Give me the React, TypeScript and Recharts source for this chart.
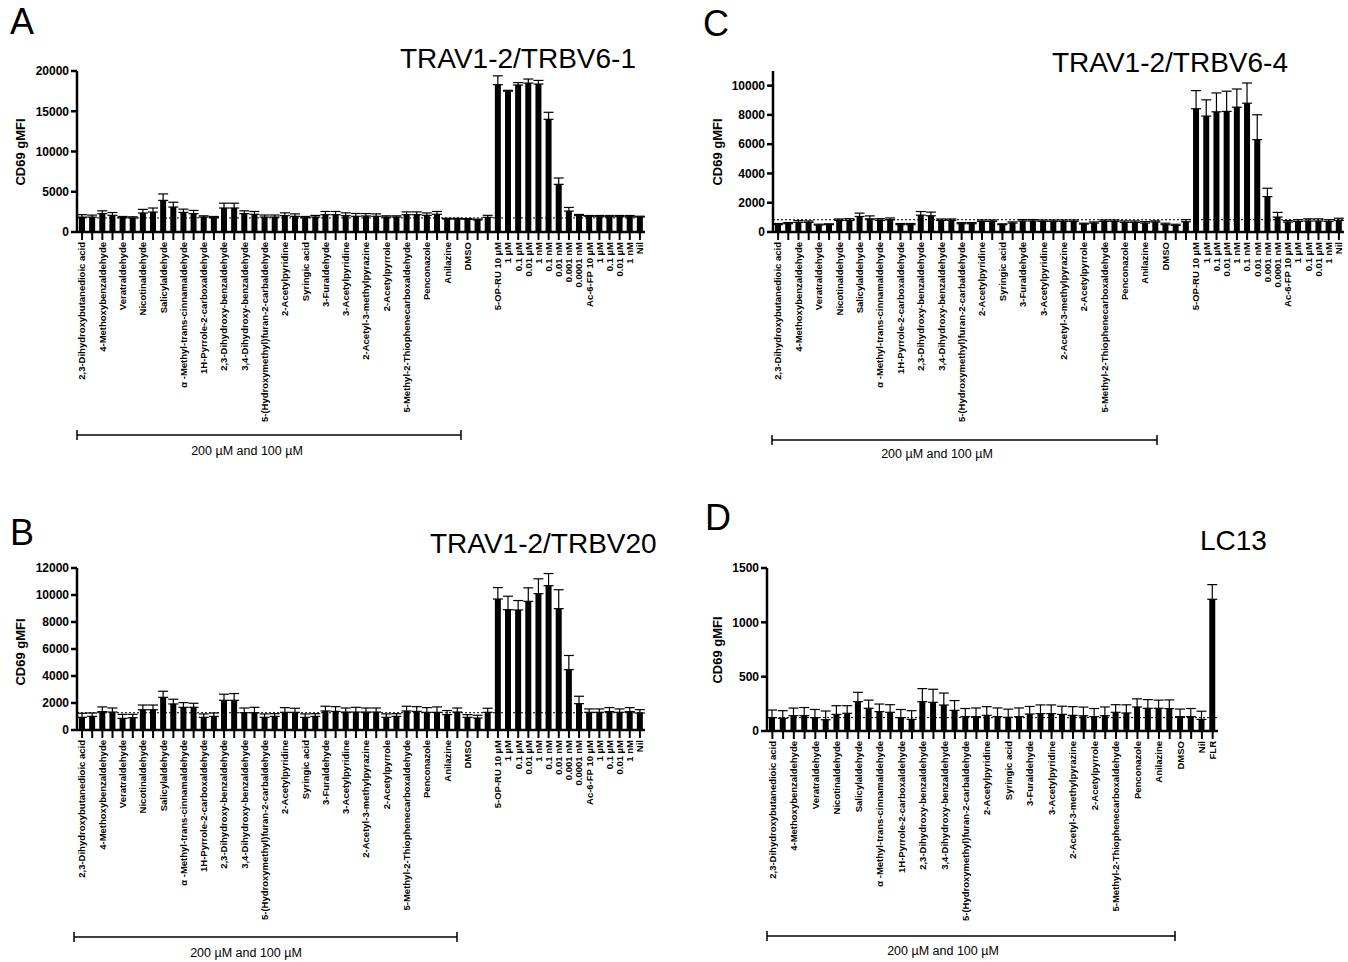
import { BarChart, Bar, XAxis, YAxis, ErrorBar, ReferenceLine } from 'recharts'

const FONT = '"Liberation Sans", Arial, Helvetica, sans-serif'

const compounds = [
  '2,3-Dihydroxybutanedioic acid', '4-Methoxybenzaldehyde', 'Veratraldehyde', 'Nicotinaldehyde',
  'Salicylaldehyde', 'α -Methyl-trans-cinnamaldehyde', '1H-Pyrrole-2-carboxaldehyde',
  '2,3-Dihydroxy-benzaldehyde', '3,4-Dihydroxy-benzaldehyde', '5-(Hydroxymethyl)furan-2-carbaldehyde',
  '2-Acetylpyridine', 'Syringic acid', '3-Furaldehyde', '3-Acetylpyridine', '2-Acetyl-3-methylpyrazine',
  '2-Acetylpyrrole', '5-Methyl-2-Thiophenecarboxaldehyde', 'Penconazole', 'Anilazine', 'DMSO',
]

const controls = [
  '', '5-OP-RU 10 µM', '1 µM', '0.1 µM', '0.01 µM', '1 nM', '0.1 nM', '0.01 nM', '0.001 nM', '0.0001 nM',
  'Ac-6-FP 10 µM', '1 µM', '0.1 µM', '0.01 µM', '1 nM', 'Nil',
]

// two bars per compound (200 µM and 100 µM), only the first one labelled
const compoundLabels = compounds.flatMap((c) => [c, ''])
const labelsMait = [...compoundLabels, ...controls]
const labelsLc13 = [...compoundLabels, 'Nil', 'FLR']

const valsA = [
  1850, 1850, 2280, 2070, 1780, 1740, 2360, 2480, 3930, 3100,
  2440, 2280, 1860, 1780, 2980, 2980, 2280, 2200, 1860, 1860,
  2030, 1950, 1780, 1860, 2150, 2150, 2030, 1950, 1990, 1950,
  1860, 1860, 2150, 2150, 2070, 2200, 1600, 1600, 1570, 1500, 1820,
  18300, 17500, 18260, 18500, 18380, 14000, 5920, 2600,
  2030, 1950, 1900, 1900, 1900, 1900, 1860,
]
const errA = [
  300, 250, 350, 350, 150, 150, 450, 500, 800, 600,
  400, 400, 150, 150, 600, 600, 350, 350, 250, 250,
  350, 300, 150, 200, 400, 400, 350, 350, 300, 300,
  150, 150, 350, 350, 300, 350, 100, 100, 100, 100, 250,
  1100, 100, 300, 500, 450, 870, 790, 450,
  150, 100, 150, 150, 150, 150, 100,
]

const valsB = [
  940, 1010, 1360, 1330, 860, 910, 1500, 1500, 2420, 1930,
  1680, 1680, 940, 1010, 2200, 2200, 1280, 1280, 940, 1010,
  1310, 1310, 940, 1010, 1410, 1380, 1330, 1330, 1330, 1330,
  940, 1010, 1410, 1380, 1310, 1310, 1140, 1330, 940, 890, 1310,
  9700, 8910, 8890, 9530, 10100, 10690, 8990, 4470,
  1950, 1310, 1310, 1360, 1310, 1360, 1260,
]
const errB = [
  300, 250, 350, 300, 300, 250, 350, 350, 450, 350,
  350, 300, 250, 250, 450, 500, 350, 400, 250, 200,
  350, 300, 250, 200, 350, 350, 300, 350, 300, 300,
  250, 200, 350, 350, 350, 400, 300, 300, 200, 200, 300,
  850, 1000, 700, 1000, 1100, 900, 1400, 1050,
  550, 250, 250, 300, 250, 300, 250,
]

const valsC = [
  500, 565, 655, 655, 475, 500, 790, 790, 1060, 900,
  790, 840, 500, 500, 1150, 1110, 790, 790, 565, 565,
  720, 720, 500, 610, 750, 750, 720, 720, 720, 720,
  540, 610, 720, 720, 655, 655, 610, 680, 500, 450, 700,
  8420, 7920, 8210, 8240, 8530, 8800, 6310, 2420,
  1020, 680, 720, 750, 750, 720, 790,
]
const errC = [
  80, 80, 120, 100, 60, 60, 100, 120, 230, 200,
  120, 120, 80, 80, 250, 250, 100, 100, 80, 80,
  100, 100, 60, 80, 100, 100, 100, 100, 100, 100,
  60, 80, 100, 100, 100, 100, 100, 80, 100, 80, 150,
  1240, 1110, 1290, 1380, 1240, 1380, 1700, 570,
  320, 100, 120, 150, 150, 120, 150,
]

const valsD = [
  123, 117, 141, 141, 123, 104, 153, 163, 270, 209,
  178, 172, 123, 107, 270, 264, 239, 190, 132, 132,
  144, 132, 126, 132, 156, 160, 160, 153, 144, 140,
  132, 141, 172, 166, 221, 209, 209, 206, 132, 132,
  107, 1212,
]
const errD = [
  70, 70, 70, 75, 75, 80, 80, 70, 86, 75,
  70, 70, 75, 80, 120, 120, 110, 90, 75, 80,
  80, 80, 75, 80, 70, 80, 80, 75, 80, 80,
  75, 80, 70, 75, 75, 80, 75, 80, 70, 75,
  75, 135,
]

const RotTick = ({ x, y, payload, labels }: any) => (
  <g transform={`translate(${x},${y})`}>
    <text
      transform="rotate(-90)"
      x={0}
      y={0}
      dy="0.35em"
      textAnchor="end"
      fontSize={9.5}
      fontWeight="bold"
      fontFamily={FONT}
      fill="#000"
    >
      {labels[payload.value]}
    </text>
  </g>
)

function Panel({ left, top, right, bottom, vals, errs, labels, domain, ticks, refY }: any) {
  const yw = 70
  const mt = 6
  const mr = 6
  const xh = 200
  const data = vals.map((v: number, i: number) => ({ i, v, err: [0, errs[i]] }))
  return (
    <div style={{ position: 'absolute', left: left - yw, top: top - mt }}>
      <BarChart
        width={right - left + yw + mr}
        height={bottom - top + mt + xh}
        data={data}
        margin={{ top: mt, right: mr, left: 0, bottom: 0 }}
      >
        <XAxis
          dataKey="i"
          type="category"
          interval={0}
          height={xh}
          tick={<RotTick labels={labels} />}
          tickSize={8}
          tickMargin={2}
          tickLine={{ stroke: '#000', strokeWidth: 2 }}
          axisLine={{ stroke: '#000', strokeWidth: 2.5 }}
        />
        <YAxis
          width={yw}
          domain={domain}
          ticks={ticks}
          allowDataOverflow
          interval={0}
          tickSize={6}
          tickMargin={2}
          tickLine={{ stroke: '#000', strokeWidth: 2.5 }}
          axisLine={{ stroke: '#000', strokeWidth: 2.5 }}
          tick={{ fill: '#000', fontSize: 12, fontWeight: 'bold', fontFamily: FONT }}
        />
        <ReferenceLine y={refY} stroke="#000" strokeWidth={1} strokeDasharray="2 2" />
        <Bar dataKey="v" fill="#000" barSize={6} isAnimationActive={false}>
          <ErrorBar dataKey="err" width={5} stroke="#000" strokeWidth={1.2} direction="y" isAnimationActive={false} />
        </Bar>
      </BarChart>
    </div>
  )
}

const letter = { fontFamily: FONT, fontSize: 36, fill: '#000' }
const title = { fontFamily: FONT, fontSize: 28, fill: '#000' }
const note = { fontFamily: FONT, fontSize: 12.5, fill: '#000' }

function Bracket({ x1, x2, y }: { x1: number; x2: number; y: number }) {
  return (
    <g stroke="#000" strokeWidth={1.5}>
      <line x1={x1} x2={x2} y1={y} y2={y} />
      <line x1={x1} x2={x1} y1={y - 5} y2={y + 5} />
      <line x1={x2} x2={x2} y1={y - 5} y2={y + 5} />
    </g>
  )
}

function YLabel({ x, y }: { x: number; y: number }) {
  return (
    <text
      x={x}
      y={y}
      transform={`rotate(-90 ${x} ${y})`}
      textAnchor="middle"
      dominantBaseline="central"
      fontFamily={FONT}
      fontSize={13}
      fontWeight="bold"
      fill="#000"
    >
      CD69 gMFI
    </text>
  )
}

export default function App() {
  return (
    <div style={{ position: 'absolute', left: 0, top: 0, width: 1348, height: 962, background: '#fff' }}>
      <Panel left={77} top={71} right={645} bottom={232} vals={valsA} errs={errA} labels={labelsMait}
        domain={[0, 20000]} ticks={[0, 5000, 10000, 15000, 20000]} refY={1750} />
      <Panel left={773} top={71} right={1344} bottom={232} vals={valsC} errs={errC} labels={labelsMait}
        domain={[0, 11000]} ticks={[0, 2000, 4000, 6000, 8000, 10000]} refY={840} />
      <Panel left={77} top={568} right={645} bottom={730} vals={valsB} errs={errB} labels={labelsMait}
        domain={[0, 12000]} ticks={[0, 2000, 4000, 6000, 8000, 10000, 12000]} refY={1280} />
      <Panel left={767} top={568} right={1218} bottom={731} vals={valsD} errs={errD} labels={labelsLc13}
        domain={[0, 1500]} ticks={[0, 500, 1000, 1500]} refY={123} />

      <svg width={1348} height={962} style={{ position: 'absolute', left: 0, top: 0, pointerEvents: 'none' }}>
        <text x={10} y={34} {...letter}>A</text>
        <text x={703} y={36} {...letter}>C</text>
        <text x={10} y={545} {...letter}>B</text>
        <text x={705} y={530} {...letter}>D</text>

        <text x={400} y={68} {...title}>TRAV1-2/TRBV6-1</text>
        <text x={1052} y={72} {...title}>TRAV1-2/TRBV6-4</text>
        <text x={430} y={553} {...title}>TRAV1-2/TRBV20</text>
        <text x={1200} y={550} {...title}>LC13</text>

        <YLabel x={20} y={152} />
        <YLabel x={717} y={152} />
        <YLabel x={20} y={652} />
        <YLabel x={717} y={650} />

        <Bracket x1={77} x2={461} y={435} />
        <text x={247} y={455} textAnchor="middle" {...note}>200 µM and 100 µM</text>
        <Bracket x1={772} x2={1157} y={440} />
        <text x={937} y={458} textAnchor="middle" {...note}>200 µM and 100 µM</text>
        <Bracket x1={74} x2={457} y={937} />
        <text x={246} y={957} textAnchor="middle" {...note}>200 µM and 100 µM</text>
        <Bracket x1={767} x2={1175} y={936} />
        <text x={943} y={955} textAnchor="middle" {...note}>200 µM and 100 µM</text>
      </svg>
    </div>
  )
}
